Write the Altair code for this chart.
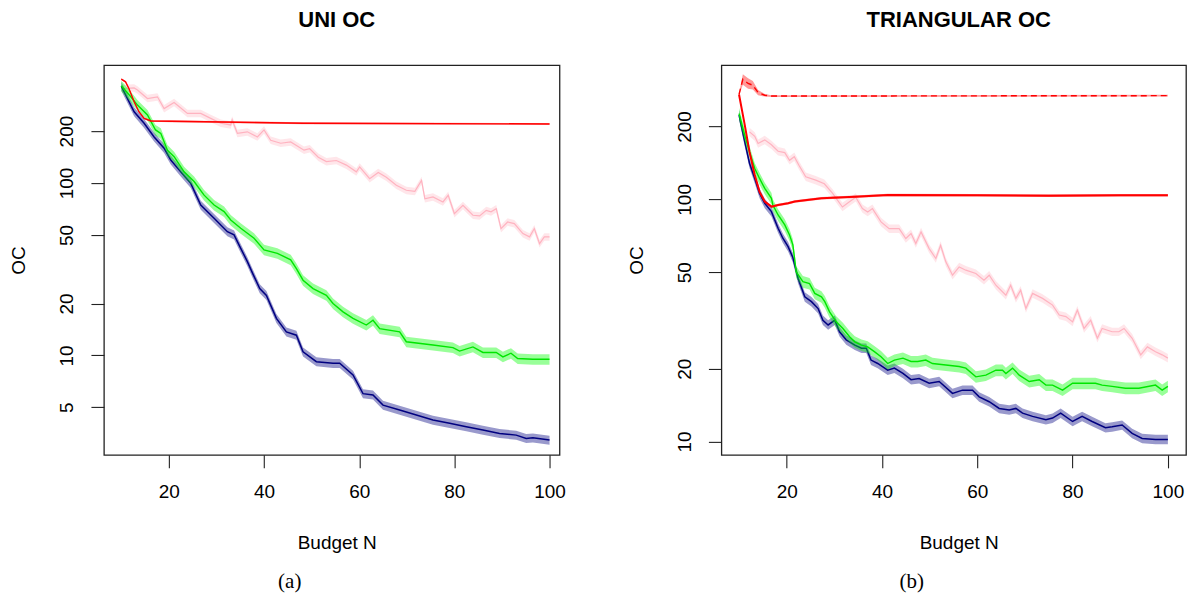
import altair as alt
import pandas as pd

# ---------------- data: left panel (UNI OC) ----------------
L_NAVY_X = [10, 12.7, 14.8, 16.9, 19.0, 20.4, 22.5, 24.6, 26.7, 29.5, 32.3, 33.7, 35.1, 36.5, 37.7, 39.1, 40.5, 42.6, 44.7, 46.8,
            48.2, 51.0, 54.5, 55.9, 58.7, 60.8, 62.9, 65.0, 68.5, 72.0, 75.5, 79.0, 82.5, 86.0, 89.5, 93.0, 95.1, 96.5, 100]
L_NAVY_Y = [364, 259, 222, 185, 159, 136, 116, 99.5, 74.5, 62.4, 52.2, 50, 41.8, 35, 29.5, 24.4, 22.3, 16.4, 13.7, 13.1,
            10.5, 9.2, 9.0, 9.0, 7.7, 6.0, 5.9, 5.15, 4.82, 4.51, 4.22, 4.04, 3.86, 3.69, 3.53, 3.45, 3.30, 3.33, 3.23]

L_GREEN_X = [10, 12.0, 13.4, 15.5, 17.2, 18.3, 19.7, 21.1, 23.2, 25.3, 27.4, 29.5, 31.6, 33.0, 35.1, 37.9, 40.0, 42.8, 45.6, 46.8,
             48.2, 50.3, 53.1, 54.5, 56.6, 58.7, 61.5, 62.9, 64.3, 68.5, 69.9, 75.5, 79.7, 81.1, 83.9, 86.0, 88.8, 90.2, 91.9, 93.3,
             96.5, 100]
L_GREEN_Y = [366, 316, 283, 248, 203, 194, 155, 142, 116, 102, 85, 74.5, 68.2, 61, 54.6, 47.8, 40.9, 39.1, 35.8, 31.9,
             27.3, 24.4, 22.3, 20.0, 17.9, 16.4, 15.0, 16.0, 14.3, 13.7, 12.0, 11.5, 11.1, 10.6, 11.2, 10.4, 10.4, 9.8, 10.3, 9.6,
             9.5, 9.5]

L_PINK_X = [10.2, 12.7, 13.4, 15.5, 17.6, 19.0, 21.1, 23.9, 26.7, 28.8, 30.9, 33.0, 33.3, 34.4, 36.5, 38.6, 40.0, 41.4, 43.5, 45.6,
            48.4, 49.6, 51.4, 53.1, 55.2, 57.3, 59.4, 60.1, 62.2, 64.0, 65.7, 67.8, 69.9, 71.7, 73.1, 73.8, 75.5, 77.6, 78.7, 80.0,
            81.8, 83.9, 85.3, 86.7, 87.7, 88.8, 89.8, 91.2, 92.6, 94.4, 95.8, 96.8, 97.9, 98.9, 100]
L_PINK_Y = [353, 356, 346, 309, 316, 270, 293, 253, 253, 237, 222, 217, 232, 194, 198, 185, 203, 177, 170, 173,
            155, 158, 141, 133, 135, 127, 116, 124, 106, 115, 108, 97, 90.7, 89.5, 103.6, 81, 83, 77.6, 84.8, 66.4,
            74.2, 65, 64.4, 69.4, 68, 71, 54.4, 59.4, 58.1, 50.9, 48.7, 54.4, 44.5, 48.7, 48.7]

L_RED_X = [10, 10.9, 11.6, 12.7, 13.7, 14.8, 16.2, 20.4, 48.3, 100]
L_RED_Y = [400, 386, 353, 296, 259, 237, 229, 228, 222, 220]

# ---------------- data: right panel (TRIANGULAR OC) ----------------
R_NAVY_X = [10, 11.2, 12.2, 13.3, 14.3, 15.4, 16.8, 18.2, 19.2, 20.3, 21.3, 22.4, 23.8, 25.2, 26.6, 27.6, 28.7, 30.1, 31.1, 32.5,
            34.3, 35.7, 36.7, 37.7, 39.1, 41.2, 42.6, 44.4, 46.1, 47.8, 49.9, 52.0, 54.8, 56.9, 59.0, 60.4, 62.5, 64.6, 66.7, 68.1,
            69.5, 71.6, 74.4, 75.8, 77.5, 80.0, 82.0, 84.1, 86.9, 88.3, 90.4, 92.5, 94.6, 97.4, 100]
R_NAVY_Y = [223, 173, 141, 122, 106, 96.3, 89, 76, 69.1, 63.8, 57.5, 47.1, 39.6, 37.8, 35.4, 31.7, 30.3, 31.7, 28.4, 26.3,
            25, 24.3, 24.3, 21.7, 21, 19.7, 20.1, 19.1, 18, 18.2, 17.4, 17.7, 15.8, 16.3, 16.3, 15.3, 14.6, 13.7, 13.5, 13.7,
            13.1, 12.7, 12.3, 12.5, 13.1, 12.1, 12.7, 12.1, 11.4, 11.5, 11.7, 10.8, 10.3, 10.2, 10.2]

R_GREEN_X = [10, 11.2, 12.2, 13.3, 14.3, 15.4, 16.8, 17.1, 18.2, 19.6, 20.6, 21.3, 22.0, 23.4, 24.8, 25.9, 27.3, 28.0, 29.0, 30.4,
             31.8, 33.2, 34.3, 35.7, 37.0, 38.4, 39.8, 41.2, 42.6, 44.4, 46.1, 47.5, 49.2, 50.6, 53.4, 56.2, 57.6, 59.7, 61.8, 63.9,
             65.3, 66.0, 67.4, 68.8, 70.9, 73.0, 74.4, 75.8, 77.9, 80.0, 82.7, 84.8, 86.2, 88.3, 91.1, 93.9, 97.4, 98.8, 100]
R_GREEN_Y = [226, 184, 157, 134, 122, 111, 101, 94.8, 86.2, 78.4, 71.3, 64.9, 50.2, 45.7, 44.9, 40.9, 39.6, 37.8, 34.3, 31.2,
             29.3, 27.1, 25.8, 25, 24.6, 23.5, 22.4, 21, 21.7, 22.1, 21.4, 21.4, 21.7, 21, 20.7, 20.4, 20.1, 18.5, 18.8, 19.7,
             19.7, 19.1, 20.1, 18.8, 17.7, 18, 17.1, 17.1, 16.3, 17.4, 17.4, 17.4, 17.1, 16.9, 16.6, 16.6, 17.1, 16.3, 16.9]

R_PINK_X = [12.2, 13.3, 14.0, 15.4, 16.8, 18.2, 19.6, 20.6, 21.6, 22.6, 24.0, 26.1, 27.9, 29.6, 31.7, 33.1, 34.5, 35.9, 37.0,
            38.0, 39.8, 41.5, 43.6, 45.0, 46.1, 47.1, 48.2, 49.9, 51.3, 52.3, 53.4, 54.8, 56.2, 57.6, 59.7, 61.4, 62.5, 63.9, 66.0,
            67.0, 68.1, 69.1, 70.2, 71.6, 73.7, 75.8, 77.2, 78.6, 80.0, 81.0, 82.4, 83.8, 85.2, 86.2, 88.3, 89.7, 90.8, 92.5, 94.3,
            95.7, 97.4, 98.8, 100]
R_PINK_Y = [190, 182, 170, 176, 168, 158, 156, 145, 150, 138, 124, 120, 116, 106, 93, 97.5, 102, 91.6, 88.7,
            91.6, 80.7, 75.7, 75.7, 68.9, 72.2, 65.7, 73.4, 62.6, 57, 64.6, 55.2, 48.6, 52.6, 51, 49.4, 46.4, 48.6, 44.2, 40.2,
            44.2, 39, 42.2, 35.4, 40.9, 39, 36.6, 33.3, 32.8, 31.2, 34.9, 29.3, 31.7, 26.7, 29.3, 28.4, 28.4, 29.3, 26.7, 22.8,
            24.6, 23.5, 22.8, 22.1]

R_RED_X = [10, 11.2, 12.2, 13.3, 14.3, 15.4, 16.8, 18.2, 20.3, 21.7, 27.3, 34.3, 41.2, 60, 75, 90, 100]
R_RED_Y = [271, 203, 157, 126, 107.6, 97.9, 93.3, 94.8, 96.3, 97.9, 101, 102.6, 104.2, 104, 103.6, 104, 103.9]

R_DASH_X = [10, 10.8, 11.9, 12.9, 14.0, 15.4, 16.8, 100]
R_DASH_Y = [271, 313, 301, 296, 276, 269, 267, 268]
R_DASH_BAND = [0.01, 0.05, 0.05, 0.04, 0.025, 0.012, 0.008, 0.008]

# relative half-width of the confidence bands (estimated)
L_BAND = {"navy": 0.06, "green": 0.07, "pink": 0.05, "red": 0.012}
R_BAND = {"navy": 0.045, "green": 0.055, "pink": 0.04, "red": 0.012}

L_YTICKS = [5, 10, 20, 50, 100, 200]
R_YTICKS = [10, 20, 50, 100, 200]
XTICKS = [20, 40, 60, 80, 100]

FONT = "Liberation Sans"
STYLE = {
    "navy": dict(color="#000080", band="#000080", width=1.5, dash=None),
    "green": dict(color="#00E600", band="#00FF00", width=1.4, dash=None),
    "pink": dict(color="#FFB3C0", band="#FFC0CB", width=1.2, dash=None),
    "red": dict(color="#FF0000", band="#FF0000", width=1.6, dash=None),
    "dash": dict(color="#FF0000", band="#FF0000", width=1.4, dash=[6, 4]),
}


def make_df(xs, ys, frac):
    assert len(xs) == len(ys)
    fr = frac if isinstance(frac, list) else [frac] * len(ys)
    assert len(fr) == len(ys)
    return pd.DataFrame({"x": xs, "y": ys,
                         "lo": [v * (1 - f) for v, f in zip(ys, fr)],
                         "hi": [v * (1 + f) for v, f in zip(ys, fr)]})


def panel(series, xdom, ydom, yticks, title, caption, width, height, red_width):
    xs = alt.Scale(domain=xdom, nice=False, zero=False)
    ys = alt.Scale(type="log", domain=ydom, nice=False, zero=False)
    xaxis = alt.Axis(values=XTICKS, title="Budget N", grid=False, domain=False,
                     tickSize=13, tickWidth=1.1, tickColor="#222",
                     labelFont=FONT, labelFontSize=19, labelColor="black", labelPadding=15,
                     labelFlush=False, labelOverlap=False,
                     titleFont=FONT, titleFontSize=19, titleFontWeight="normal", titleColor="black",
                     titleX=width / 2 + 5, titleY=88, titleBaseline="middle", titleAlign="center")
    yaxis = alt.Axis(values=yticks, title="OC", grid=False, domain=False,
                     tickSize=13, tickWidth=1.1, tickColor="#222",
                     labelFont=FONT, labelFontSize=19, labelColor="black", labelPadding=14,
                     labelAngle=270, labelAlign="center", labelBaseline="bottom",
                     labelFlush=False, labelOverlap=False, labelExpr="datum.value",
                     titleFont=FONT, titleFontSize=19, titleFontWeight="normal", titleColor="black",
                     titleAngle=270, titleX=-79, titleY=height / 2, titleAlign="center",
                     titleBaseline="alphabetic")
    layers = []
    for key, df in series:
        st = STYLE[key]
        band = alt.Chart(df).mark_area(color=st["band"], opacity=0.4, clip=True).encode(
            x=alt.X("x:Q", scale=xs, axis=xaxis),
            y=alt.Y("lo:Q", scale=ys, axis=yaxis, title="OC"),
            y2="hi:Q")
        lw = red_width if key == "red" else st["width"]
        lkw = dict(color=st["color"], strokeWidth=lw, clip=True)
        if st["dash"]:
            lkw["strokeDash"] = st["dash"]
        line = alt.Chart(df).mark_line(**lkw).encode(
            x=alt.X("x:Q", scale=xs, axis=xaxis),
            y=alt.Y("y:Q", scale=ys, axis=yaxis, title="OC"))
        layers += [band, line]
    cap = alt.Chart(pd.DataFrame({"t": [caption]})).mark_text(
        font="Liberation Serif", fontSize=21, color="black", baseline="middle", align="center"
    ).encode(x=alt.value(width / 2 - 42), y=alt.value(height + 127), text="t:N")
    layers.append(cap)
    return alt.layer(*layers).properties(
        width=width, height=height,
        title=alt.TitleParams(text=title, font=FONT, fontSize=22, fontWeight="bold",
                              color="black", anchor="middle", offset=33, dx=5),
    )


left = panel(
    [("pink", make_df(L_PINK_X, L_PINK_Y, L_BAND["pink"])),
     ("navy", make_df(L_NAVY_X, L_NAVY_Y, L_BAND["navy"])),
     ("green", make_df(L_GREEN_X, L_GREEN_Y, L_BAND["green"])),
     ("red", make_df(L_RED_X, L_RED_Y, L_BAND["red"]))],
    [6.35, 102.1], [2.65, 482], L_YTICKS, "UNI OC", "(a)", 456, 390, 1.4)

right = panel(
    [("pink", make_df(R_PINK_X, R_PINK_Y, R_BAND["pink"])),
     ("navy", make_df(R_NAVY_X, R_NAVY_Y, R_BAND["navy"])),
     ("green", make_df(R_GREEN_X, R_GREEN_Y, R_BAND["green"])),
     ("red", make_df(R_RED_X, R_RED_Y, R_BAND["red"])),
     ("dash", make_df(R_DASH_X, R_DASH_Y, R_DASH_BAND))],
    [6.3, 103.8], [8.81, 358], R_YTICKS, "TRIANGULAR OC", "(b)", 465, 390, 2.0)

chart = alt.hconcat(left, right, spacing=162, bounds="flush").properties(
    padding={"left": 1, "top": 0, "right": 0, "bottom": 0},
    background="white",
).configure_view(stroke="#222", strokeWidth=1.3)

chart.save("out.html", embed_options={"renderer": "svg", "actions": False})
